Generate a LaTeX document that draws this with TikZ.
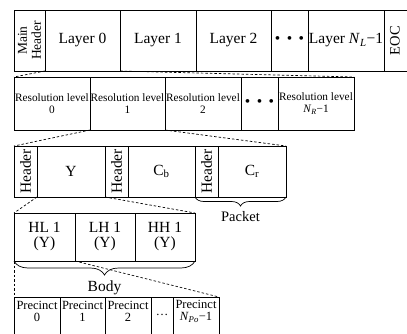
\documentclass[tikz,border=0pt]{standalone}
\usepackage{fontspec}
\setmainfont{Liberation Serif}
\usetikzlibrary{decorations.pathreplacing}
\newcommand{\fs}[2]{\fontsize{#1}{#2}\selectfont}
\newcommand{\cellnode}[6]{\node[cellbox, minimum width={#3-#2}, minimum height={#5-#4}] (#1) at ({(#2+#3)/2},{(#4+#5)/2}) {#6};}
\begin{document}
\begin{tikzpicture}[x=1pt,y=-1pt,
  cellbox/.style={draw, line width=0.8pt, inner sep=0pt, outer sep=0pt, align=center},
  conn/.style={line width=0.7pt, dash pattern=on 2.5pt off 2pt},
  bracedec/.style={decorate, decoration={brace, mirror, amplitude=#1}, line width=0.7pt},
  txt/.style={inner sep=0pt, align=center}]
\useasboundingbox (0,0) rectangle (407,333);
% Row 1
\begin{scope}[font=\fs{15.5}{17}]
\cellnode{mh}{14}{45}{10}{71}{}
\node[txt, rotate=90, font=\fs{13.5}{14}] (mhtxt) at (mh.center) {Main\\Header};
\cellnode{l0}{45}{120}{10}{71}{Layer 0}
\cellnode{l1}{120}{196}{10}{71}{Layer 1}
\cellnode{l2}{196}{271}{10}{71}{Layer 2}
\cellnode{ld}{271}{308}{10}{71}{\textbullet\hspace{6.5pt}\textbullet\hspace{6.5pt}\textbullet}
\cellnode{ln}{308}{384}{10}{71}{Layer \textit{N}\textsubscript{\textit{L}}−1}
\cellnode{eoc}{384}{408}{10}{71}{}
\node[txt, rotate=90, font=\fs{14.5}{15}] (eoctxt) at (395,40.5) {EOC};
\end{scope}
% Row 2
\begin{scope}[font=\fs{11.3}{12.5}]
\cellnode{r2a}{14}{90}{77}{130}{Resolution level\\0}
\cellnode{r2b}{90}{165}{77}{130}{Resolution level\\1}
\cellnode{r2c}{165}{241}{77}{130}{Resolution level\\2}
\cellnode{r2d}{241}{278}{77}{130}{\fs{15.5}{17}\textbullet\hspace{6.5pt}\textbullet\hspace{6.5pt}\textbullet}
\cellnode{r2e}{278}{354}{77}{130}{Resolution level\\\textit{N}\textsubscript{\textit{R}}−1}
\end{scope}
% Row 3
\begin{scope}[font=\fs{15.5}{17}]
\cellnode{r3a}{14}{37}{146}{197}{}
\node[txt, rotate=90] (h1) at (r3a.center) {Header};
\cellnode{r3b}{37}{105}{146}{197}{Y}
\cellnode{r3c}{105}{128}{146}{197}{}
\node[txt, rotate=90] (h2) at (r3c.center) {Header};
\cellnode{r3d}{128}{195}{146}{197}{C\textsubscript{b}}
\cellnode{r3e}{195}{218}{146}{197}{}
\node[txt, rotate=90] (h3) at (r3e.center) {Header};
\cellnode{r3f}{218}{286}{146}{197}{C\textsubscript{r}}
\node[txt, font=\fs{14.5}{16}] (packet) at (240.5,217) {Packet};
\end{scope}
% Row 4
\begin{scope}[font=\fs{15.5}{15}]
\cellnode{r4a}{14}{75}{213}{261}{HL 1\\(Y)}
\cellnode{r4b}{75}{135}{213}{261}{LH 1\\(Y)}
\cellnode{r4c}{135}{195}{213}{261}{HH 1\\(Y)}
\node[txt] (body) at (104.5,288) {Body};
\end{scope}
% Row 5
\begin{scope}[font=\fs{12.5}{12}]
\cellnode{r5a}{14}{60}{297}{345}{}
\cellnode{r5b}{60}{105}{297}{345}{}
\cellnode{r5c}{105}{151}{297}{345}{}
\cellnode{r5d}{151}{173}{297}{345}{}
\cellnode{r5e}{173}{219}{297}{345}{}
\node[txt] (p0) at (37,311.5) {Precinct\\0};
\node[txt] (p1) at (82.5,311.5) {Precinct\\1};
\node[txt] (p2) at (128,311.5) {Precinct\\2};
\node[txt] (pd) at (162,315) {\dots};
\node[txt] (pn) at (196,311.5) {Precinct\\\textit{N}\textsubscript{\textit{Po}}−1};
\end{scope}
% connectors
\draw[conn] (mh.south east) -- (r2a.north west);
\draw[conn] (l0.south east) -- (r2e.north east);
\draw[conn] (r2a.south east) -- (r3a.north west);
\draw[conn] (r2b.south east) -- (r3f.north east);
\draw[conn] (r3a.south east) -- (r4a.north west);
\draw[conn] (r3b.south east) -- (r4c.north east);
\draw[conn] (r4a.south west) -- (r5a.north west);
\draw[conn] (r4a.south east) -- (r5e.north east);
% braces
\draw[bracedec=9] (r3e.south west) -- (r3f.south east);
\draw[bracedec=14] (r4a.south west) -- (r4c.south east);
\end{tikzpicture}
\end{document}
